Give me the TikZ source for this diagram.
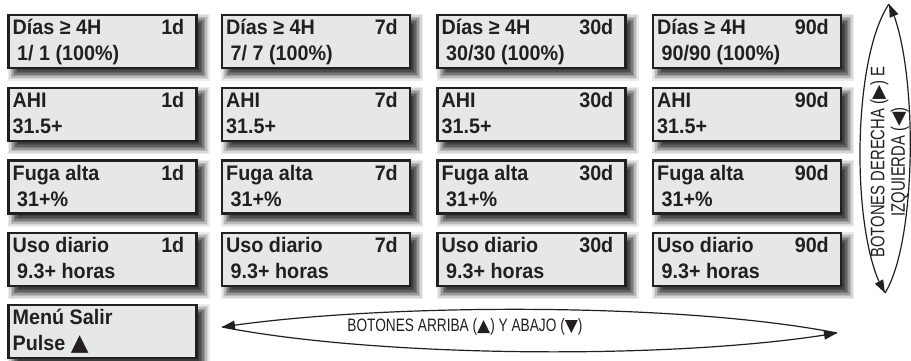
\documentclass[tikz,border=0pt]{standalone}
\usepackage{fontspec}
\setmainfont{Liberation Sans}
\newfontfamily\boxfont{Liberation Sans Bold}[FakeStretch=0.94]
\newfontfamily\condfont{Liberation Sans}[FakeStretch=0.76]
\newfontfamily\symfont{DejaVu Sans}[Scale=0.95]
\newfontfamily\bigsym{DejaVu Sans Bold}[Scale=1.1]
\usetikzlibrary{arrows.meta,bending}
\definecolor{ink}{HTML}{231F20}
\definecolor{lcd}{HTML}{E6E7E8}
\tikzset{
  screen/.style={draw=ink, line width=2.5pt, fill=lcd, rectangle,
    minimum width=188pt, minimum height=53pt, anchor=north west,
    inner sep=0pt, outer sep=0pt},
  txt/.style={font=\boxfont\fontsize{21}{25}\selectfont, text=ink, inner sep=0pt, anchor=base west},
  txtr/.style={txt, anchor=base east},
  loopline/.style={draw=ink, line width=1.2pt},
  tipped/.style={-{Triangle[length=13pt,width=9pt]}},
  btn/.style={text=ink, inner sep=0pt}
}
% shadow: stacked solid grey rectangles, outer light to inner dark
\newcommand{\lcdshadow}[2]{%
  \foreach \r/\c in {7/8,5.5/16,4/27,2.5/40,1/52,-0.5/62,-2/70,-3.5/76}{%
    \fill[black!\c] ({#1+6-\r},{#2+6-\r}) rectangle ({#1+194+\r},{#2+59+\r});
  }%
}
% name, x, y, title, period, value
\newcommand{\lcdscreen}[6]{%
  \lcdshadow{#2}{#3}
  \node[screen] (#1) at (#2,#3) {};
  \node[txt] (#1t) at ([xshift=4pt,yshift=-19.5pt]#1.north west) {#4};
  \node[txtr] (#1p) at ([xshift=-12pt,yshift=-19.5pt]#1.north east) {#5};
  \node[txt] (#1v) at ([xshift=4pt,yshift=-45.5pt]#1.north west) {#6};
}
\begin{document}
\begin{tikzpicture}[x=1pt,y=-1pt]
\useasboundingbox (0,0) rectangle (911,361);
\fill[white] (0,0) rectangle (911,361);
% row 1
\lcdscreen{a1}{8.5}{15}{Días ≥ 4H}{1d}{\hspace*{4.5pt}1/ 1 (100\%)}
\lcdscreen{a2}{222}{15}{Días ≥ 4H}{7d}{\hspace*{4.5pt}7/ 7 (100\%)}
\lcdscreen{a3}{437.5}{15}{Días ≥ 4H}{30d}{\hspace*{4.5pt}30/30 (100\%)}
\lcdscreen{a4}{653}{15}{Días ≥ 4H}{90d}{\hspace*{4.5pt}90/90 (100\%)}
% row 2
\lcdscreen{b1}{8.5}{88}{AHI}{1d}{31.5+}
\lcdscreen{b2}{222}{88}{AHI}{7d}{31.5+}
\lcdscreen{b3}{437.5}{88}{AHI}{30d}{31.5+}
\lcdscreen{b4}{653}{88}{AHI}{90d}{31.5+}
% row 3
\lcdscreen{c1}{8.5}{160.5}{Fuga alta}{1d}{\hspace*{4.5pt}31+\%}
\lcdscreen{c2}{222}{160.5}{Fuga alta}{7d}{\hspace*{4.5pt}31+\%}
\lcdscreen{c3}{437.5}{160.5}{Fuga alta}{30d}{\hspace*{4.5pt}31+\%}
\lcdscreen{c4}{653}{160.5}{Fuga alta}{90d}{\hspace*{4.5pt}31+\%}
% row 4
\lcdscreen{d1}{8.5}{233}{Uso diario}{1d}{\hspace*{4.5pt}9.3+ horas}
\lcdscreen{d2}{222}{233}{Uso diario}{7d}{\hspace*{4.5pt}9.3+ horas}
\lcdscreen{d3}{437.5}{233}{Uso diario}{30d}{\hspace*{4.5pt}9.3+ horas}
\lcdscreen{d4}{653}{233}{Uso diario}{90d}{\hspace*{4.5pt}9.3+ horas}
% row 5
\lcdshadow{8.5}{305}
\node[screen] (e1) at (8.5,305) {};
\node[txt] (e1t) at ([xshift=4pt,yshift=-19.5pt]e1.north west) {Menú Salir};
\node[txt] (e1v) at ([xshift=4pt,yshift=-45.5pt]e1.north west) {Pulse {\bigsym ▲}};
% vertical loop (right / left buttons)
\coordinate (vt) at (889,4);
\coordinate (vb) at (885,293);
\draw[loopline, tipped] (vb) .. controls (918,240) and (918,60) .. (vt);
\draw[loopline, tipped] (vt) .. controls (851,60) and (851,240) .. (vb);
\node[btn, rotate=90, align=center, font=\condfont\fontsize{19.5}{20.5}\selectfont] (vtext) at (889.5,162)
  {BOTONES DERECHA ({\symfont ▶}) E\\IZQUIERDA ({\symfont ◀})};
% horizontal loop (up / down buttons)
\coordinate (hl) at (222,327);
\coordinate (hr) at (837,333);
\draw[loopline, tipped] (hr) .. controls (680,302) and (380,303) .. (hl);
\draw[loopline, tipped] (hl) .. controls (380,358) and (680,360) .. (hr);
\node[btn, font=\condfont\fontsize{18}{20}\selectfont] (htext) at (465,327)
  {BOTONES ARRIBA ({\symfont ▲}) Y ABAJO ({\symfont ▼})};
\end{tikzpicture}
\end{document}
